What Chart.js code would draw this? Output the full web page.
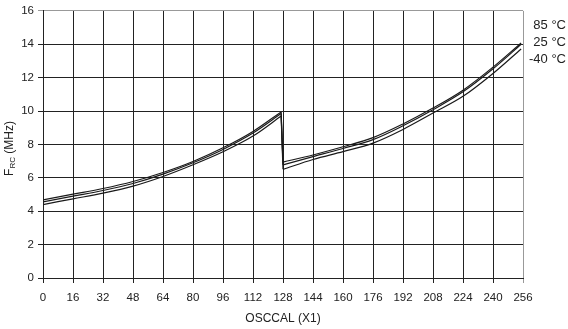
<!DOCTYPE html>
<html>
<head>
<meta charset="utf-8">
<script src="https://cdn.jsdelivr.net/npm/chart.js@4"></script>
<style>
  html, body { margin: 0; padding: 0; background: #fff; }
  #wrap { width: 568px; height: 329px; position: relative; }
</style>
</head>
<body>
<div id="wrap"><canvas id="frcChart"></canvas></div>
<script>
// OSCCAL settings (two ranges, jump between 127 and 128)
const osccal = [0, 16, 32, 48, 64, 80, 96, 112, 127, 128, 144, 160, 176, 192, 208, 224, 240, 255];
const lowEnd = 9; // first index of the upper range

// F_RC (MHz) per temperature
const frc85 = [4.68, 5.02, 5.36, 5.78, 6.32, 6.98, 7.80, 8.78, 9.95,
               6.94, 7.37, 7.86, 8.41, 9.23, 10.18, 11.25, 12.63, 14.08];
const frc25 = [4.56, 4.90, 5.24, 5.66, 6.22, 6.90, 7.70, 8.68, 9.85,
               6.78, 7.27, 7.76, 8.29, 9.12, 10.08, 11.15, 12.53, 14.00];
const frcM40 = [4.40, 4.74, 5.08, 5.50, 6.08, 6.78, 7.56, 8.50, 9.70,
                6.51, 7.10, 7.57, 8.08, 8.90, 9.88, 10.88, 12.25, 13.72];

const seriesLabels = ['85 °C', '25 °C', '-40 °C'];
const xTitle = 'OSCCAL (X1)';

const toPoints = (arr, from, to) =>
    arr.slice(from, to).map((v, i) => ({ x: osccal[from + i], y: v }));

// Temperature labels to the right of the plot, and the F_RC axis title with subscript
const sidePlugin = {
    id: 'sideText',
    afterDraw(chart) {
        const ctx = chart.ctx;
        const area = chart.chartArea;
        ctx.save();
        ctx.fillStyle = '#222';
        ctx.font = '13px "Liberation Sans", Arial, sans-serif';
        ctx.textAlign = 'right';
        ctx.textBaseline = 'middle';
        const ys = [25, 42, 59];
        seriesLabels.forEach((t, i) => ctx.fillText(t, 566, ys[i]));

        // y axis title: F with subscript RC, then (MHz)
        ctx.translate(10, (area.top + area.bottom) / 2 + 4);
        ctx.rotate(-Math.PI / 2);
        const big = '12px "Liberation Sans", Arial, sans-serif';
        const small = '8px "Liberation Sans", Arial, sans-serif';
        ctx.font = big;
        const wF = ctx.measureText('F').width;
        const wU = ctx.measureText(' (MHz)').width;
        ctx.font = small;
        const wRC = ctx.measureText('RC').width;
        let x = -(wF + wRC + wU) / 2;
        ctx.textAlign = 'left';
        ctx.font = big;
        ctx.fillText('F', x, 0);
        x += wF;
        ctx.font = small;
        ctx.fillText('RC', x, 3);
        x += wRC;
        ctx.font = big;
        ctx.fillText(' (MHz)', x, 0);
        ctx.restore();
    }
};

const lineStyle = {
    borderColor: '#1a1a1a',
    borderWidth: 1.2,
    pointRadius: 0,
    fill: false,
    cubicInterpolationMode: 'monotone'
};

// each temperature: lower range, drop at 127/128, upper range
const datasets = [];
[frc85, frc25, frcM40].forEach((arr, k) => {
    datasets.push({ label: seriesLabels[k], data: toPoints(arr, 0, lowEnd), ...lineStyle });
    datasets.push({ label: seriesLabels[k], data: toPoints(arr, lowEnd - 1, lowEnd + 1), ...lineStyle });
    datasets.push({ label: seriesLabels[k], data: toPoints(arr, lowEnd, osccal.length), ...lineStyle });
});

new Chart(document.getElementById('frcChart'), {
    type: 'line',
    data: { datasets },
    options: {
        responsive: true,
        maintainAspectRatio: false,
        animation: false,
        layout: { padding: { top: 6, right: 45, left: 0, bottom: 0 } },
        plugins: {
            legend: { display: false },
            tooltip: { enabled: false }
        },
        scales: {
            x: {
                type: 'linear',
                min: 0,
                max: 256,
                afterFit: s => { s.height = 51; },
                grid: {
                    color: c => c.tick && c.tick.value === 256 ? '#999' : '#222',
                    lineWidth: 1,
                    tickLength: 5
                },
                border: { color: '#222' },
                ticks: {
                    stepSize: 16,
                    color: '#222',
                    padding: 8,
                    maxRotation: 0,
                    autoSkip: false,
                    font: { family: 'Liberation Sans', size: 11.5 }
                },
                title: {
                    display: true,
                    text: xTitle,
                    color: '#222',
                    padding: { top: 0, bottom: 3 },
                    font: { family: 'Liberation Sans', size: 12 }
                }
            },
            y: {
                min: 0,
                max: 16,
                afterFit: s => { s.width = 43; },
                grid: {
                    color: c => c.tick && c.tick.value === 16 ? '#999' : '#222',
                    lineWidth: 1,
                    tickLength: 5
                },
                border: { color: '#222' },
                ticks: {
                    stepSize: 2,
                    color: '#222',
                    padding: 4,
                    font: { family: 'Liberation Sans', size: 11.5 }
                }
            }
        }
    },
    plugins: [sidePlugin]
});
</script>
</body>
</html>
